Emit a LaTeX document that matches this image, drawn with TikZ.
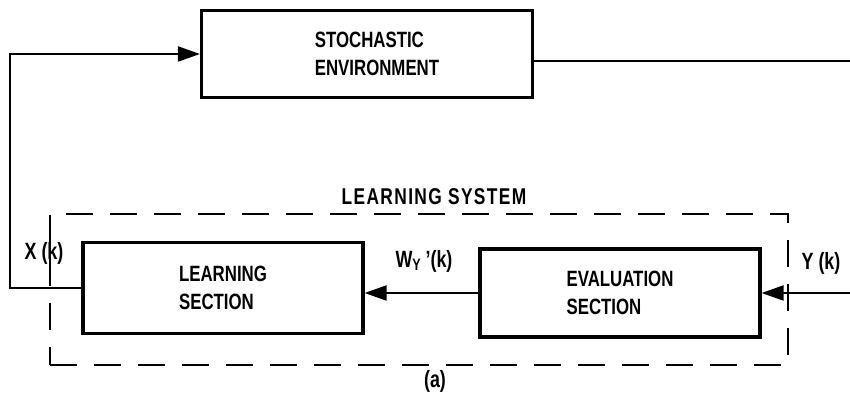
\documentclass[tikz,border=0pt]{standalone}
\usepackage{fontspec}
\setmainfont{Liberation Sans}[FakeStretch=0.76]
\usepackage{tikz}
\usetikzlibrary{positioning,arrows.meta}

\begin{document}
\begin{tikzpicture}[x=0.02cm,y=-0.02cm,>={Triangle[length=4.4mm,width=3mm]},line width=1.1pt,
  font=\fontsize{12.6}{16}\selectfont\bfseries]

  \tikzstyle{block}=[draw,line width=1.8pt,align=left,inner sep=0pt]
  \tikzstyle{sig}=[inner sep=1pt,font=\fontsize{13.4}{16}\selectfont\bfseries]

  \useasboundingbox (0,0) rectangle (850,394);

  % blocks
  \node[block,minimum width=6.62cm,minimum height=1.74cm] (env) at (367,54) {\hspace*{0.4cm}STOCHASTIC\\\hspace*{0.4cm}ENVIRONMENT};
  \node[block,minimum width=5.6cm,minimum height=1.82cm] (learn) at (223,288) {LEARNING\\SECTION};
  \node[block,minimum width=5.6cm,minimum height=1.76cm] (eval) at (620,293) {EVALUATION\\SECTION};

  % the learning system boundary
  \node[draw,dash pattern=on 0.54cm off 0.34cm,line width=1.2pt,minimum width=14.76cm,minimum height=3.02cm,inner sep=0pt] (sys) at (419,289.5) {};
  \node[above=0.03cm of sys.north,xshift=0.3cm,font=\fontsize{13}{16}\selectfont\bfseries\addfontfeature{LetterSpace=6}] (sysname) {LEARNING\ SYSTEM};

  % free ends
  \coordinate (envout) at (850,61);
  \coordinate (yin) at (850,293);

  % connectors
  \draw (env.east |- envout) -- (envout);
  \draw[->] (learn.west) -- ++(-71,0) |- (env.west);
  \draw[->] (eval.west) -- (learn.east |- eval.west);
  \draw[->] (yin) -- (eval.east);

  % signal labels
  \node[sig] (xk) at (44,253) {X (k)};
  \node[sig] (wy) at (424,261) {W\textsubscript{Y}\,'(k)};
  \node[sig] (yk) at (821,263) {Y (k)};
  \node[sig] (tag) at (435,381) {(a)};

\end{tikzpicture}
\end{document}
